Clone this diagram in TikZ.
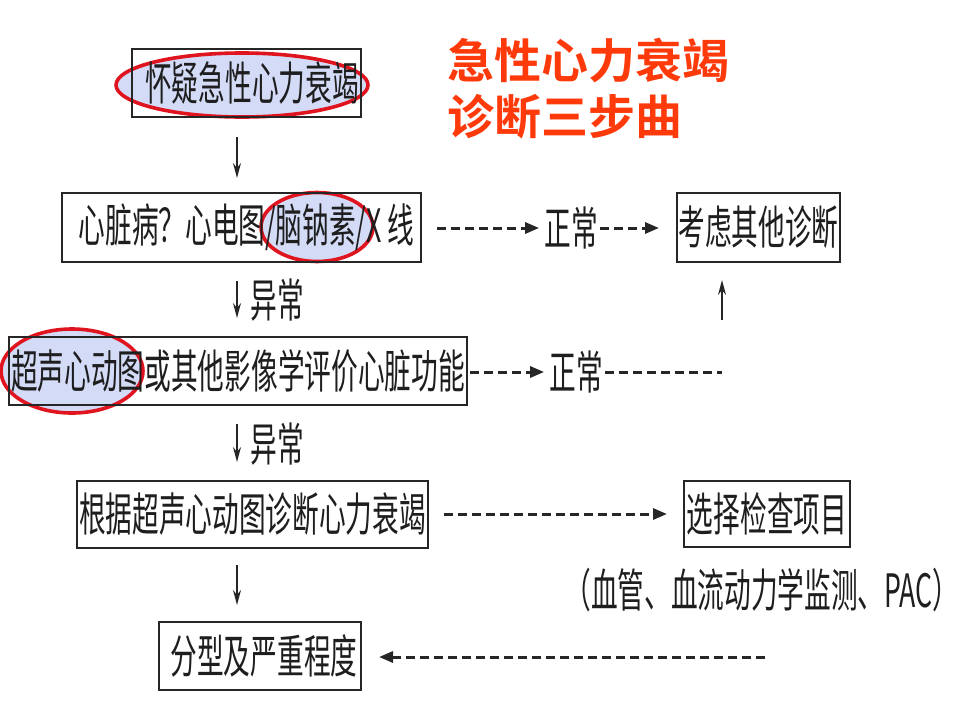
\documentclass[tikz,border=0pt]{standalone}
\usepackage{fontspec}
\usetikzlibrary{arrows.meta,shapes.geometric}
\newfontfamily\cjk[FakeStretch=0.58]{Noto Sans CJK SC}
\newfontfamily\cjktitle{Noto Sans CJK SC Bold}
\definecolor{ovalfill}{HTML}{D3DBF7}
\definecolor{ovalline}{HTML}{E0141E}
\definecolor{titlered}{HTML}{FF3A0A}
\definecolor{txt}{HTML}{1E1E1E}
\tikzset{
  x=1pt, y=-1pt,
  boxnode/.style={draw=black!85, line width=2pt, inner sep=0pt, text=txt,
    font=\cjk\fontsize{46}{50}\selectfont},
  lbl/.style={inner sep=0pt, text=txt, font=\cjk\fontsize{46}{50}\selectfont},
  oval/.style={ellipse, draw=ovalline, fill=ovalfill, line width=3.6pt, inner sep=0pt},
  vflow/.style={line width=1.6pt, draw=black!85, -{Stealth[length=15pt,width=8pt]}},
  dflow/.style={line width=3pt, draw=black!85, dash pattern=on 9pt off 5pt, -{Triangle[length=14pt,width=11pt]}},
  dline/.style={line width=3pt, draw=black!85, dash pattern=on 9pt off 5pt},
  title/.style={inner sep=0pt, anchor=west, text=titlered, font=\cjktitle\fontsize{47}{50}\selectfont}
}
\begin{document}
\begin{tikzpicture}
\useasboundingbox (0,0) rectangle (960,720);
% ovals behind
\node[oval, minimum width=252pt, minimum height=64pt] (e1) at (242,85) {};
\node[oval, minimum width=112pt, minimum height=69pt] (e2) at (317,227) {};
\node[oval, minimum width=142pt, minimum height=84pt] (e3) at (72,371) {};
% boxes
\node[boxnode, minimum width=229pt, minimum height=68pt] (b1) at (246,83) {\hspace{12pt}怀疑急性心力衰竭};
\node[boxnode, minimum width=359pt, minimum height=69pt] (b2) at (241.5,227) {\hspace{10pt}心脏病？心电图/脑钠素/X 线};
\node[boxnode, minimum width=458pt, minimum height=68pt] (b3) at (238,371) {超声心动图或其他影像学评价心脏功能};
\node[boxnode, minimum width=351pt, minimum height=67pt] (b4) at (252.5,514) {根据超声心动图诊断心力衰竭};
\node[boxnode, minimum width=166pt, minimum height=66pt] (b5) at (767,514) {选择检查项目};
\node[boxnode, minimum width=202pt, minimum height=68pt] (b6) at (260,656) {\hspace{8pt}分型及严重程度};
\node[boxnode, minimum width=163pt, minimum height=69pt] (b7) at (758.5,227.5) {考虑其他诊断};
% labels
\node[lbl] (n1) at (571,228) {正常};
\node[lbl] (n2) at (576,372) {正常};
\node[lbl] (a1) at (277,300) {异常};
\node[lbl] (a2) at (277,444) {异常};
\node[lbl] (pac) at (762,590) {（血管、血流动力学监测、PAC）};
% title
\node[title] (t1) at (447,61) {急性心力衰竭};
\node[title] (t2) at (447,117) {诊断三步曲};
% connector end points
\coordinate (v1a) at (237,137); \coordinate (v1b) at (237,178);
\coordinate (v2a) at (237,281); \coordinate (v2b) at (237,318);
\coordinate (v3a) at (237,424); \coordinate (v3b) at (237,462);
\coordinate (v4a) at (237,565); \coordinate (v4b) at (237,605);
\coordinate (up1) at (722,320); \coordinate (up2) at (722,280);
\coordinate (h2end) at (722,372);
\coordinate (h6start) at (765,657);
% vertical arrows
\draw[vflow] (v1a) -- (v1b);
\draw[vflow] (v2a) -- (v2b);
\draw[vflow] (v3a) -- (v3b);
\draw[vflow] (v4a) -- (v4b);
\draw[vflow] (up1) -- (up2);
% dashed flows
\draw[dflow] ([xshift=15pt]b2.east |- n1.west) -- ([xshift=-5pt]n1.west);
\draw[dflow] ([xshift=2pt]n1.east) -- ([xshift=-17pt]b7.west |- n1.east);
\draw[dflow] ([xshift=2pt]b3.east |- n2.west) -- ([xshift=-5pt]n2.west);
\draw[dline] ([xshift=2pt]n2.east) -- (h2end);
\draw[dflow] ([xshift=15pt]b4.east) -- ([xshift=-16pt]b5.west);
\draw[dflow] (h6start) -- ([xshift=17pt]b6.east |- h6start);
\end{tikzpicture}
\end{document}
